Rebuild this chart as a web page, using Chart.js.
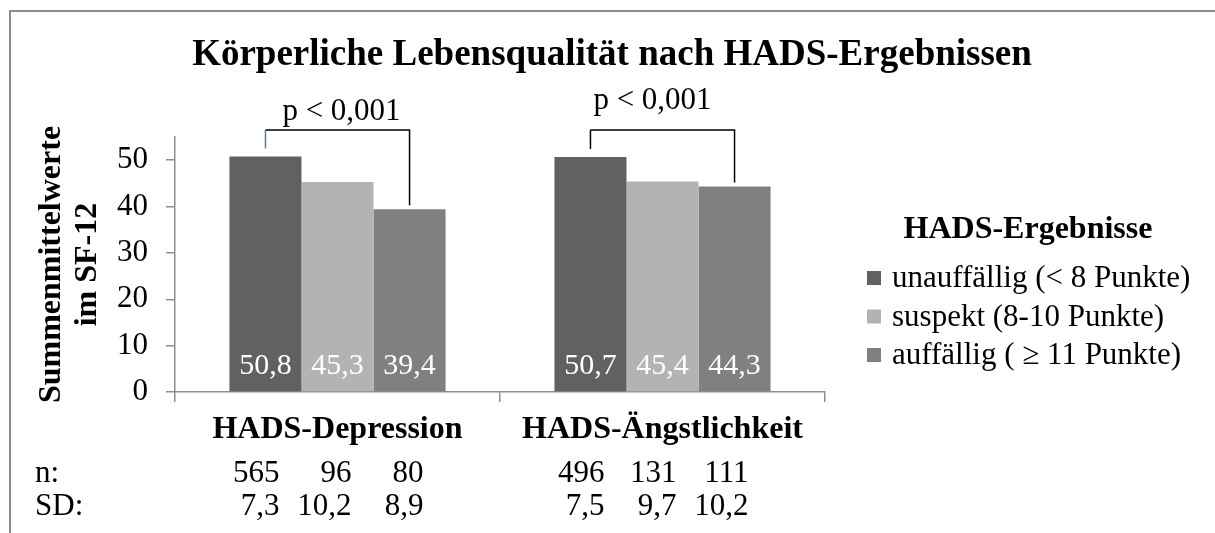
<!DOCTYPE html>
<html>
<head>
<meta charset="utf-8">
<script src="https://cdn.jsdelivr.net/npm/chart.js@4.4.0/dist/chart.umd.min.js"></script>
<style>
  html, body { margin: 0; padding: 0; background: #fff; overflow: hidden; }
  #wrap { position: relative; width: 1215px; height: 533px; }
  #frame { position: absolute; left: 9px; top: 10px; width: 1300px; height: 600px;
           border-left: 2px solid #8e8e8e; border-top: 2px solid #8e8e8e; }
  canvas { position: absolute; left: 0; top: 0; }
</style>
</head>
<body>
<div id="wrap">
  <div id="frame"></div>
  <canvas id="chart" width="1215" height="533"></canvas>
</div>
<script>
const chartTitle = 'Körperliche Lebensqualität nach HADS-Ergebnissen'
const categories = ['HADS-Depression', 'HADS-Ängstlichkeit']
const seriesLabels = ['unauffällig (< 8 Punkte)', 'suspekt (8-10 Punkte)', 'auffällig ( ≥ 11 Punkte)']
const unauffaellig = [50.8, 50.7]
const suspekt = [45.3, 45.4]
const auffaellig = [39.4, 44.3]
const nDepression = [565, 96, 80]
const nAngst = [496, 131, 111]
const sdDepression = [7.3, 10.2, 8.9]
const sdAngst = [7.5, 9.7, 10.2]
const pLabels = ['p < 0,001', 'p < 0,001']
const yTicks = [0, 10, 20, 30, 40, 50]
const yMax = 55

const serif = '"Liberation Serif", "Times New Roman", serif'
const barColors = ['#616161', '#b3b3b3', '#808080']
const axisColor = '#8e8e8e'

const fmt = v => v.toFixed(1).replace('.', ',')

// everything Chart.js does not draw by itself: title, values, brackets, n/SD rows, legend
const extras = {
  id: 'extras',
  afterDatasetsDraw(chart) {
    const ctx = chart.ctx
    const yScale = chart.scales.y
    const metas = chart.data.datasets.map((ds, i) => chart.getDatasetMeta(i))
    ctx.save()
    ctx.textBaseline = 'alphabetic'

    // title
    ctx.fillStyle = '#000'
    ctx.textAlign = 'center'
    ctx.font = 'bold 37px ' + serif
    ctx.fillText(chartTitle, 612, 65)

    // values inside the bars
    ctx.font = '30px ' + serif
    ctx.fillStyle = '#fff'
    chart.data.datasets.forEach((ds, i) => {
      metas[i].data.forEach((bar, j) => {
        ctx.fillText(fmt(ds.data[j]), bar.x, bar.base - 17)
      })
    })

    // significance brackets
    const pShift = [4, -10]
    const pLift = [10, 21]
    const topY = yScale.getPixelForValue(56.5)
    ctx.font = '31px ' + serif
    categories.forEach((c, j) => {
      const a = metas[0].data[j]
      const b = metas[2].data[j]
      ctx.lineWidth = 1.5
      ctx.strokeStyle = j === 0 ? '#4a7ebb' : '#000'
      ctx.beginPath()
      ctx.moveTo(a.x, a.y - 8)
      ctx.lineTo(a.x, topY)
      ctx.stroke()
      ctx.strokeStyle = '#000'
      ctx.beginPath()
      ctx.moveTo(a.x, topY)
      ctx.lineTo(b.x, topY)
      ctx.lineTo(b.x, b.y - 4)
      ctx.stroke()
      ctx.fillStyle = '#000'
      ctx.textAlign = 'center'
      ctx.fillText(pLabels[j], (a.x + b.x) / 2 + pShift[j], topY - pLift[j])
    })

    // n and SD rows under the axis
    ctx.fillStyle = '#000'
    ctx.textAlign = 'left'
    ctx.fillText('n:', 35, 482)
    ctx.fillText('SD:', 35, 515)
    ctx.textAlign = 'right'
    const nRows = [nDepression, nAngst]
    const sdRows = [sdDepression, sdAngst]
    categories.forEach((c, j) => {
      metas.forEach((m, i) => {
        const x = m.data[j].x + 14
        ctx.fillText(String(nRows[j][i]), x, 482)
        ctx.fillText(fmt(sdRows[j][i]), x, 515)
      })
    })

    // legend
    ctx.textAlign = 'center'
    ctx.font = 'bold 32px ' + serif
    ctx.fillText('HADS-Ergebnisse', 1028, 238)
    ctx.font = '31px ' + serif
    ctx.textAlign = 'left'
    seriesLabels.forEach((lab, i) => {
      const base = 287 + i * 38.5
      ctx.fillStyle = barColors[i]
      ctx.fillRect(867, base - 16, 14, 14)
      ctx.fillStyle = '#000'
      ctx.fillText(lab, 892, base)
    })
    ctx.restore()
  }
}

new Chart(document.getElementById('chart'), {
  type: 'bar',
  data: {
    labels: categories,
    datasets: [
      { label: seriesLabels[0], data: unauffaellig, backgroundColor: barColors[0] },
      { label: seriesLabels[1], data: suspekt, backgroundColor: barColors[1] },
      { label: seriesLabels[2], data: auffaellig, backgroundColor: barColors[2] }
    ]
  },
  options: {
    responsive: false,
    animation: false,
    layout: { padding: { top: 137, right: 390, left: 0, bottom: 0 } },
    datasets: { bar: { categoryPercentage: 0.665, barPercentage: 1.0, borderWidth: 0 } },
    scales: {
      x: {
        grid: { drawOnChartArea: false, offset: true, color: axisColor, lineWidth: 1.5, tickLength: 10 },
        border: { color: axisColor, width: 1.5 },
        ticks: { color: '#000', padding: 9, font: { family: serif, size: 32, weight: 'bold', lineHeight: 1.2 } },
        afterFit(s) { s.height = 141 }
      },
      y: {
        min: 0,
        max: yMax,
        ticks: { color: '#000', padding: 18, font: { family: serif, size: 31 } },
        afterBuildTicks(s) { s.ticks = yTicks.map(v => ({ value: v })) },
        grid: { drawOnChartArea: false, color: axisColor, lineWidth: 1.5, tickLength: 9 },
        border: { color: axisColor, width: 1.5 },
        title: {
          display: true,
          text: ['Summenmittelwerte', 'im SF-12'],
          color: '#000',
          font: { family: serif, size: 32, weight: 'bold', lineHeight: 1.125 },
          padding: { top: 34, bottom: 0 }
        },
        afterFit(s) { s.width = 175 }
      }
    },
    plugins: {
      legend: { display: false },
      tooltip: { enabled: false }
    }
  },
  plugins: [extras]
})
</script>
</body>
</html>
